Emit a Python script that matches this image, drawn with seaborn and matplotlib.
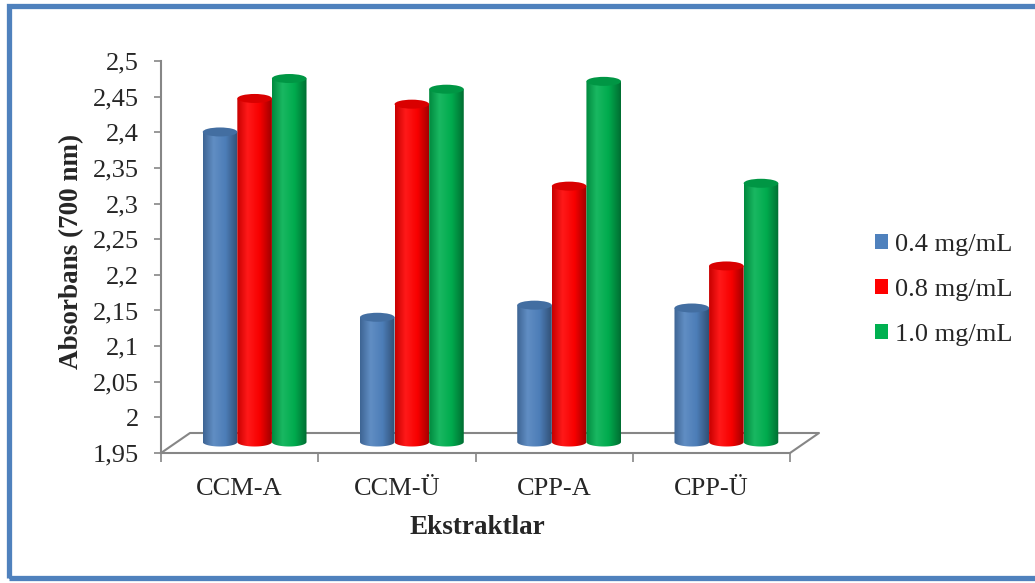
import numpy as np
import pandas as pd
import matplotlib
matplotlib.use("Agg")
import matplotlib.pyplot as plt
import matplotlib.colors as mcolors
from matplotlib.patches import Ellipse, PathPatch, Patch, Rectangle
from matplotlib.path import Path
from matplotlib.lines import Line2D
from matplotlib.transforms import IdentityTransform
import seaborn as sns

# ---- data -------------------------------------------------------------
extracts = ["CCM-A", "CCM-Ü", "CPP-A", "CPP-Ü"]
concentrations = ["0.4 mg/mL", "0.8 mg/mL", "1.0 mg/mL"]
abs_04 = [2.385, 2.125, 2.142, 2.138]
abs_08 = [2.432, 2.424, 2.309, 2.197]
abs_10 = [2.460, 2.445, 2.456, 2.313]
series_colors = ["#4F81BD", "#FF0000", "#00B050"]
y_ticks = [1.95, 2.0, 2.05, 2.1, 2.15, 2.2, 2.25, 2.3, 2.35, 2.4, 2.45, 2.5]

df = pd.DataFrame({
    "Ekstrakt": extracts * len(concentrations),
    "Konsantrasyon": np.repeat(concentrations, len(extracts)),
    "Absorbans": abs_04 + abs_08 + abs_10,
})

sns.set_theme(style="white")
plt.rcParams["font.family"] = ["Liberation Serif", "DejaVu Serif"]

W, H = 1035, 583
fig = plt.figure(figsize=(W / 100, H / 100), dpi=100)
fig.patch.set_facecolor("white")

TICK_FS = 19
TITLE_FS = 19.5


def frac(left, top, right, bottom):
    """Pixel box (origin top-left) -> figure fraction rect."""
    return [left / W, 1 - bottom / H, (right - left) / W, (bottom - top) / H]


Y0, Y1 = y_ticks[0], y_ticks[-1]
PLOT_L, PLOT_R, PLOT_T, PLOT_B = 161, 790, 61, 453
px_per_unit = (PLOT_B - PLOT_T) / (Y1 - Y0)
DEPTH_X, DEPTH_Y = 15, 11      # bars stand half way back on the floor
FLOOR_X, FLOOR_Y = 29, 20      # full floor depth
AXIS_GREY = "#868686"

# ---- front frame: value axis, category axis and floor ------------------
ax = fig.add_axes(frac(PLOT_L, PLOT_T, PLOT_R, PLOT_B))
ax.set_zorder(1)
ax.patch.set_alpha(0)
ax.set_xlim(-0.5, len(extracts) - 0.5)
ax.set_ylim(Y0, Y1)
for side in ("top", "right"):
    ax.spines[side].set_visible(False)
for side in ("left", "bottom"):
    ax.spines[side].set_color(AXIS_GREY)
    ax.spines[side].set_linewidth(1.5)

ax.set_yticks(y_ticks)
ax.set_yticklabels([f"{v:.2f}".rstrip("0").rstrip(".").replace(".", ",") for v in y_ticks])
ax.tick_params(axis="y", direction="out", length=5, width=1.2, color=AXIS_GREY,
               labelsize=TICK_FS, pad=11, left=True)
ax.set_xticks(range(len(extracts)))
ax.set_xticklabels(extracts)
ax.tick_params(axis="x", which="major", length=0, labelsize=TICK_FS, pad=18)
ax.set_xticks(np.arange(-0.5, len(extracts)), minor=True)
ax.tick_params(axis="x", which="minor", direction="out", length=6.5, width=1.2,
               color=AXIS_GREY, bottom=True)
ax.grid(False)

front = ax.transAxes.transform([(0, 0), (1, 0)])
fl, fr = front[0], front[1]
floor_x = [fl[0], fl[0] + FLOOR_X, fr[0] + FLOOR_X, fr[0]]
floor_y = [fl[1], fl[1] + FLOOR_Y, fr[1] + FLOOR_Y, fr[1]]
ax.add_line(Line2D(floor_x, floor_y, transform=IdentityTransform(),
                   color=AXIS_GREY, lw=1.5, clip_on=False, zorder=0))

# ---- bars, drawn on an axes shifted into the depth of the floor --------
pad = 0.05
b_base = PLOT_B - DEPTH_Y
axb = fig.add_axes(frac(PLOT_L + DEPTH_X, b_base - (Y1 + pad - Y0) * px_per_unit,
                        PLOT_R + DEPTH_X, b_base + pad * px_per_unit))
axb.set_zorder(2)
axb.patch.set_alpha(0)
sns.barplot(data=df, x="Ekstrakt", y="Absorbans", hue="Konsantrasyon",
            palette=series_colors, width=0.66, saturation=1, legend=False, ax=axb)
axb.set_xlim(-0.5, len(extracts) - 0.5)
axb.set_ylim(Y0 - pad, Y1 + pad)
axb.axis("off")

cap_h = 9 / px_per_unit


def shade(c, f):
    r, g, b = mcolors.to_rgb(c)
    if f >= 1:
        t = f - 1
        return (r + (1 - r) * t, g + (1 - g) * t, b + (1 - b) * t)
    return (r * f, g * f, b * f)


for p in list(axb.patches):
    x0, w, top = p.get_x(), p.get_width(), p.get_height()
    col = p.get_facecolor()
    p.set_visible(False)
    xc = x0 + w / 2
    cmap = mcolors.LinearSegmentedColormap.from_list(
        "cyl", [(0.0, shade(col, 0.78)), (0.3, shade(col, 1.10)),
                (0.65, shade(col, 0.97)), (1.0, shade(col, 0.62))])
    t = np.linspace(0, np.pi, 40)
    verts = ([(x0, top), (x0, Y0)]
             + list(zip(xc - w / 2 * np.cos(t), Y0 - cap_h / 2 * np.sin(t)))
             + [(x0 + w, top), (x0, top)])
    body = PathPatch(Path(verts, closed=True), transform=axb.transData)
    grad = np.linspace(0, 1, 128)[None, :]
    im = axb.imshow(grad, cmap=cmap, extent=(x0, x0 + w, Y0 - cap_h, top),
                    aspect="auto", origin="lower", interpolation="bilinear", zorder=2)
    im.set_clip_path(body)
    axb.add_patch(Ellipse((xc, top), w, cap_h, facecolor=shade(col, 0.85),
                          edgecolor="none", zorder=3))

axb.set_xlim(-0.5, len(extracts) - 0.5)
axb.set_ylim(Y0 - pad, Y1 + pad)

# ---- titles, legend and outer frame ------------------------------------
fig.text(72 / W, 1 - 251 / H, "Absorbans (700 nm)", rotation=90, ha="center",
         va="center", fontsize=TITLE_FS, fontweight="bold")
fig.text(477 / W, 1 - 527 / H, "Ekstraktlar", ha="center", va="center",
         fontsize=TITLE_FS, fontweight="bold")

handles = [Patch(facecolor=c, edgecolor="none") for c in series_colors]
fig.legend(handles, concentrations, loc="center left",
           bbox_to_anchor=(875 / W, 1 - 290 / H), frameon=False, fontsize=TICK_FS,
           handlelength=0.5, handleheight=0.5, handletextpad=0.27,
           labelspacing=0.87, borderpad=0, borderaxespad=0)

fig.add_artist(Rectangle((8.5 / W, 5.5 / H), 1040 / W, 572 / H,
                         transform=fig.transFigure, fill=False,
                         edgecolor="#4F81BD", linewidth=3.8, clip_on=False))

fig.savefig("out.png", dpi=100)
